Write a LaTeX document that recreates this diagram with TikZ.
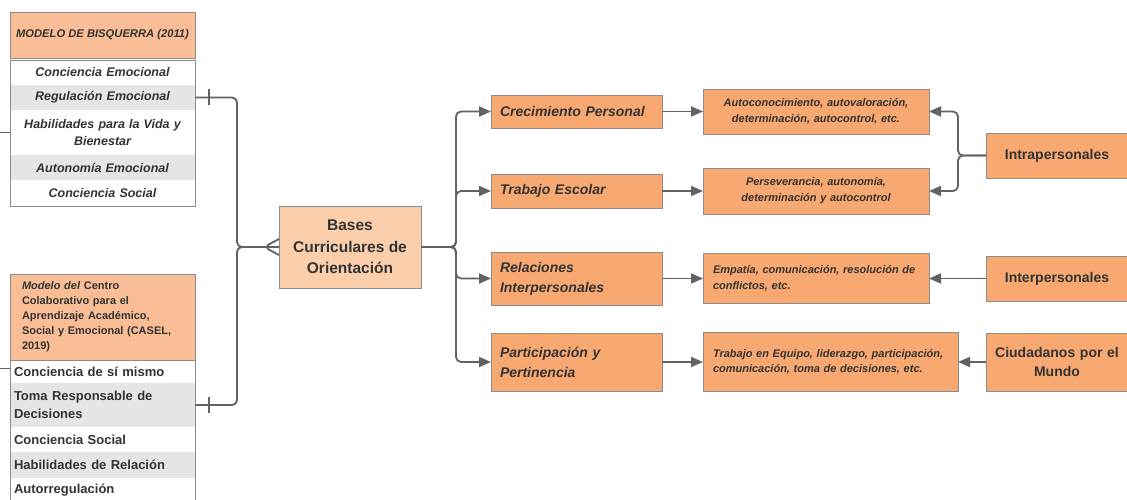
\documentclass[tikz,border=0pt]{standalone}
\usepackage{fontspec}
\setmainfont{Liberation Sans}
\usetikzlibrary{positioning,arrows.meta}

\definecolor{boxorange}{HTML}{F8A972}
\definecolor{baseorange}{HTML}{FBCFAC}
\definecolor{headorange}{HTML}{F9BE95}
\definecolor{rowgray}{HTML}{E5E5E5}
\definecolor{edgegray}{HTML}{8C8C8C}
\definecolor{linegray}{HTML}{626262}
\definecolor{txt}{HTML}{333333}

\begin{document}
\begin{tikzpicture}[x=1pt, y=-1pt,
    every node/.style={outer sep=0pt, text=txt},
    tblhead/.style={draw=edgegray, fill=headorange, minimum width=185pt},
    toprow/.style={text width=177pt, inner xsep=4pt, align=center, font=\fontsize{12.5}{17}\bfseries\itshape},
    botrow/.style={text width=177pt, inner xsep=4pt, align=left, font=\fontsize{13}{18}\bfseries},
    basebox/.style={draw=edgegray, fill=baseorange, align=center, font=\fontsize{15.5}{21.5}\bfseries},
    branch/.style={draw=edgegray, fill=boxorange, text width=153pt, inner xsep=9pt, align=left, font=\fontsize{14}{20}\bfseries\itshape},
    detail/.style={draw=edgegray, fill=boxorange, inner xsep=10pt, font=\fontsize{11}{16}\bfseries\itshape},
    comp/.style={draw=edgegray, fill=boxorange, text width=130pt, inner xsep=6pt, align=center, font=\fontsize{14}{19}\bfseries},
    conn/.style={draw=linegray, line width=1.8pt, rounded corners=5pt},
    flow/.style={conn, -{Triangle[length=12pt,width=10pt]}},
    stub/.style={draw=linegray, line width=1pt},
    ]
  \useasboundingbox[fill=white] (0,0) rectangle (1127,500);

  % Bisquerra table
  \node[tblhead, anchor=north west, minimum height=46pt, font=\fontsize{11.2}{13}\bfseries\itshape] (bis) at (10,12) {MODELO DE BISQUERRA (2011)};
  \node[toprow, below=2pt of bis, minimum height=25pt] (bis1) {Conciencia Emocional};
  \node[toprow, fill=rowgray, below=0pt of bis1, minimum height=25pt] (bis2) {Regulación Emocional};
  \node[toprow, below=0pt of bis2, minimum height=45pt] (bis3) {Habilidades para la Vida y\\Bienestar};
  \node[toprow, fill=rowgray, below=0pt of bis3, minimum height=25pt] (bis4) {Autonomía Emocional};
  \node[toprow, below=0pt of bis4, minimum height=26pt] (bis5) {Conciencia Social};
  \draw[edgegray] (bis1.north west) rectangle (bis5.south east);

  % CASEL table
  \node[tblhead, anchor=north west, minimum height=86pt, text width=161pt, inner xsep=12pt, align=left, font=\fontsize{11}{15}\bfseries] (cas) at (10,274) {\textit{Modelo del} Centro\\Colaborativo para el\\Aprendizaje Académico,\\Social y Emocional (CASEL,\\2019)};
  \node[botrow, below=0pt of cas, minimum height=23pt] (cas1) {Conciencia de sí mismo};
  \node[botrow, fill=rowgray, below=0pt of cas1, minimum height=44pt] (cas2) {Toma Responsable de\\Decisiones};
  \node[botrow, below=0pt of cas2, minimum height=25pt] (cas3) {Conciencia Social};
  \node[botrow, fill=rowgray, below=0pt of cas3, minimum height=26pt] (cas4) {Habilidades de Relación};
  \node[botrow, below=0pt of cas4, minimum height=24pt] (cas5) {Autorregulación};
  \draw[edgegray] (cas1.north west) rectangle (cas5.south east);

  % centre
  \node[basebox, anchor=north west, minimum width=142pt, minimum height=82pt] (bases) at (279,206) {Bases\\Curriculares de\\Orientación};

  % branches
  \node[branch, anchor=north west, minimum height=33pt] (crec) at (491,95) {Crecimiento Personal};
  \node[branch, anchor=north west, minimum height=34pt] (trab) at (491,174) {Trabajo Escolar};
  \node[branch, anchor=north west, minimum height=53pt] (rel) at (491,252) {Relaciones\\Interpersonales};
  \node[branch, anchor=north west, minimum height=58pt] (part) at (491,333) {Participación y\\Pertinencia};

  % details
  \node[detail, right=41pt of crec, text width=206pt, align=center, minimum height=45pt] (dcrec) {Autoconocimiento, autovaloración,\\determinación, autocontrol, etc.};
  \node[detail, right=41pt of trab, text width=206pt, align=center, minimum height=46pt] (dtrab) {Perseverancia, autonomía,\\determinación y autocontrol};
  \node[detail, right=41pt of rel, text width=206pt, align=left, minimum height=50pt] (drel) {Empatía, comunicación, resolución de\\conflictos, etc.};
  \node[detail, right=41pt of part, text width=235pt, align=left, minimum height=59pt, font=\fontsize{11}{15}\bfseries\itshape] (dpart) {Trabajo en Equipo, liderazgo, participación,\\comunicación, toma de decisiones, etc.};

  % competences
  \node[comp, anchor=north west, minimum height=45pt] (intra) at (986,133) {Intrapersonales};
  \node[comp, right=57pt of drel, minimum height=45pt] (inter) {Interpersonales};
  \node[comp, right=28pt of dpart, minimum height=58pt] (ciud) {Ciudadanos por el\\Mundo};

  \coordinate (lj) at (237,247);
  \coordinate (rj) at (456,247);
  \coordinate (ij) at (958,155.5);
  \coordinate (offa) at (0,132.5);
  \coordinate (offb) at (0,368);

  % left side
  \draw[stub] (offa) -- (bis3.west);
  \draw[stub] (offb) -- (offb -| cas1.west);
  \draw[conn] (bis2.east) -| (lj) -- (bases.west);
  \draw[conn] (cas2.east) -| (lj) -- (bases.west);
  \draw[conn] ([xshift=14pt]bis2.east) ++(0,-8) -- ++(0,16);
  \draw[conn] ([xshift=14pt]cas2.east) ++(0,-8) -- ++(0,16);
  \draw[conn] ([yshift=8pt]bases.west) -- ([xshift=-15pt]bases.west) -- ([yshift=-8pt]bases.west);

  % right side
  \foreach \b in {crec,trab,rel,part}
    \draw[flow] (bases.east) -- (rj) |- (\b.west);
  \foreach \b/\d in {crec/dcrec,trab/dtrab,rel/drel,part/dpart}
    \draw[flow] (\b.east) -- (\b.east -| \d.west);
  \draw[flow] (intra.west) -- (ij) |- (dcrec.east);
  \draw[flow] (intra.west) -- (ij) |- (dtrab.east);
  \draw[flow] (inter.west) -- (inter.west -| drel.east);
  \draw[flow] (ciud.west) -- (ciud.west -| dpart.east);
\end{tikzpicture}
\end{document}
